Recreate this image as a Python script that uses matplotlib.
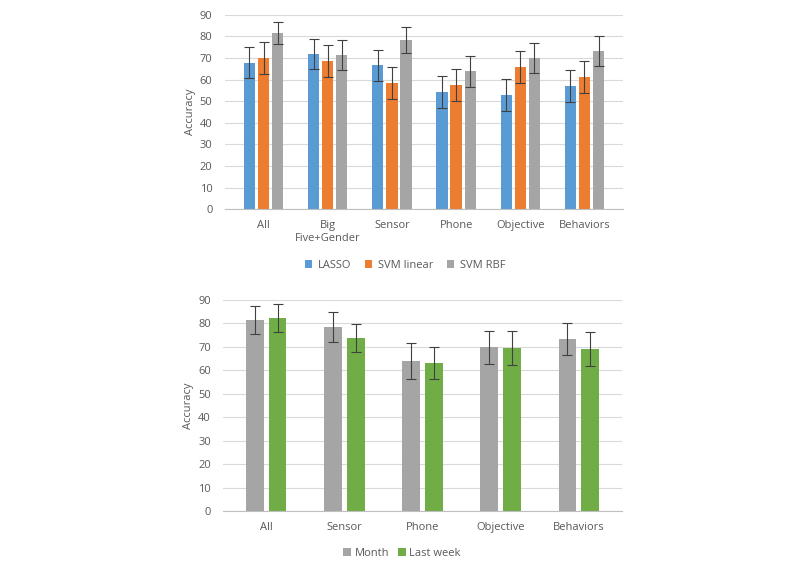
import matplotlib.pyplot as plt
import numpy as np

# top chart data
cats_top = ['All', 'Big\nFive+Gender', 'Sensor', 'Phone', 'Objective', 'Behaviors']
lasso = [67.8, 71.8, 66.7, 54.2, 52.9, 57.0]
lasso_err = [7.3, 6.9, 7.2, 7.5, 7.5, 7.6]
svm_lin = [70.0, 68.6, 58.4, 57.5, 65.8, 61.2]
svm_lin_err = [7.2, 7.3, 7.5, 7.2, 7.4, 7.4]
svm_rbf = [81.5, 71.3, 78.3, 63.9, 70.0, 73.2]
svm_rbf_err = [5.0, 6.8, 6.2, 7.2, 7.0, 7.0]

# bottom chart data
cats_bot = ['All', 'Sensor', 'Phone', 'Objective', 'Behaviors']
month = [81.3, 78.4, 63.9, 69.8, 73.3]
month_err = [6.0, 6.4, 7.5, 7.0, 6.8]
last_week = [82.2, 73.7, 63.0, 69.4, 69.0]
last_week_err = [6.0, 5.8, 6.8, 7.4, 7.2]

plt.rcParams['font.family'] = ['Open Sans', 'DejaVu Sans']
txt = '#595959'
grid = '#D9D9D9'
fs = 8

fig = plt.figure(figsize=(8, 5.73), dpi=100)
W, H = 800, 573

def style(ax):
    ax.set_ylim(0, 90)
    ax.set_yticks(range(0, 91, 10))
    for s in ['top', 'right', 'left']:
        ax.spines[s].set_visible(False)
    ax.spines['bottom'].set_color('#BFBFBF')
    ax.spines['bottom'].set_linewidth(0.8)
    ax.yaxis.grid(True, color=grid, linewidth=0.8)
    ax.set_axisbelow(True)
    ax.tick_params(length=0, labelsize=fs, colors=txt)
    ax.tick_params(axis='y', pad=9)
    ax.tick_params(axis='x', pad=8)
    ax.set_ylabel('Accuracy', fontsize=fs, color=txt, labelpad=3)

ek = dict(ecolor='#404040', elinewidth=0.8, capsize=3.5, capthick=0.8)

# top chart
ax1 = fig.add_axes([225 / W, 1 - 209.3 / H, 398 / W, 194.6 / H])
x = np.arange(len(cats_top))
w = 0.176
st = 0.219
ax1.bar(x - st, lasso, w, yerr=lasso_err, color='#5B9BD5', label='LASSO', error_kw=ek)
ax1.bar(x, svm_lin, w, yerr=svm_lin_err, color='#ED7D31', label='SVM linear', error_kw=ek)
ax1.bar(x + st, svm_rbf, w, yerr=svm_rbf_err, color='#A5A5A5', label='SVM RBF', error_kw=ek)
ax1.set_xticks(x)
ax1.set_xticklabels(cats_top)
ax1.set_xlim(-0.6, len(cats_top) - 0.4)
style(ax1)
leg1 = fig.legend(*ax1.get_legend_handles_labels(), loc='center', ncol=3,
                  bbox_to_anchor=(405 / W, 1 - 265 / H), frameon=False,
                  fontsize=fs, handlelength=0.7, handleheight=0.7,
                  handletextpad=0.5, columnspacing=1.2)
for t in leg1.get_texts():
    t.set_color(txt)

# bottom chart
ax2 = fig.add_axes([223.3 / W, 1 - 511 / H, 398.4 / W, 211.3 / H])
x2 = np.arange(len(cats_bot))
w2 = 0.228
st2 = 0.145
ax2.bar(x2 - st2, month, w2, yerr=month_err, color='#A5A5A5', label='Month', error_kw=ek)
ax2.bar(x2 + st2, last_week, w2, yerr=last_week_err, color='#70AD47', label='Last week', error_kw=ek)
ax2.set_xticks(x2)
ax2.set_xticklabels(cats_bot)
ax2.set_xlim(-0.55, len(cats_bot) - 0.45)
style(ax2)
leg2 = fig.legend(*ax2.get_legend_handles_labels(), loc='center', ncol=2,
                  bbox_to_anchor=(402 / W, 1 - 553 / H), frameon=False,
                  fontsize=fs, handlelength=0.7, handleheight=0.7,
                  handletextpad=0.3, columnspacing=0.8)
for t in leg2.get_texts():
    t.set_color(txt)

fig.savefig('out.png', dpi=100)
